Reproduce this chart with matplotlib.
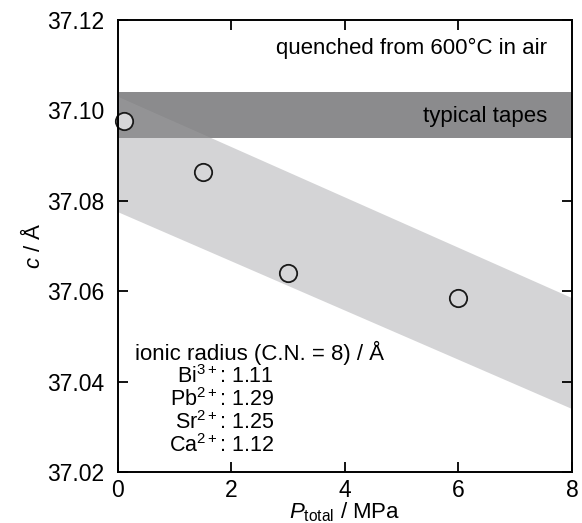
import numpy as np
import matplotlib
matplotlib.use("Agg")
import matplotlib.pyplot as plt

plt.rcParams['font.family'] = ['Liberation Sans', 'DejaVu Sans']
plt.rcParams['mathtext.fontset'] = 'custom'
plt.rcParams['mathtext.it'] = 'Liberation Sans:italic'
plt.rcParams['mathtext.rm'] = 'Liberation Sans'

# measured c-axis lengths vs total pressure
pressure = [0.1, 1.5, 3.0, 6.0]
c_axis = [37.0976, 37.0864, 37.0639, 37.0584]

# shaded trend band (upper / lower edge at P = 0 and P = 8)
band_x = [0, 8]
band_top = [37.1030, 37.0585]
band_bot = [37.0775, 37.0340]

# typical tape range
tape_lo, tape_hi = 37.0939, 37.1040

ion_lines = [r"Bi$^{3+}$: 1.11", r"Pb$^{2+}$: 1.29", r"Sr$^{2+}$: 1.25", r"Ca$^{2+}$: 1.12"]

fig = plt.figure(figsize=(5.82, 5.23), dpi=100)
ax = fig.add_axes([0.2027, 0.0975, 0.7801, 0.8652])

ax.fill_between(band_x, band_bot, band_top, color='#d4d4d6', lw=0, zorder=1)
ax.axhspan(tape_lo, tape_hi, color='#8b8b8d', lw=0, zorder=2)
# overlap of both bands looks a bit lighter
xs = np.linspace(band_x[0], band_x[1], 400)
top = np.interp(xs, band_x, band_top)
bot = np.interp(xs, band_x, band_bot)
lo = np.maximum(bot, tape_lo)
hi = np.minimum(top, tape_hi)
ax.fill_between(xs, lo, hi, where=hi > lo, color='#d4d4d6', alpha=0.12, lw=0, zorder=3)

ax.plot(pressure, c_axis, 'o', ms=12.5, mfc='#d6d6d8', mec='#1a1a1a', mew=1.3,
        clip_on=False, zorder=5)

ax.set_xlim(0, 8)
ax.set_ylim(37.02, 37.12)
ax.set_xticks([0, 2, 4, 6, 8])
ax.set_yticks([37.02, 37.04, 37.06, 37.08, 37.10, 37.12])
ax.set_yticklabels(['%.2f' % v for v in ax.get_yticks()])
ax.tick_params(direction='in', length=7, width=1.3, top=True, right=True,
               labelsize=16.5)
ax.tick_params(axis='y', pad=10)
ax.tick_params(axis='x', pad=5)
for s in ax.spines.values():
    s.set_linewidth(1.4)
    s.set_zorder(6)

ax.set_xlabel(r"$P_{\mathrm{total}}$ / MPa", fontsize=16, labelpad=-1)
ax.set_ylabel(r"$c$ / Å", fontsize=16, labelpad=1)

ax.text(7.56, 37.1136, "quenched from 600°C in air", ha='right', va='center', fontsize=16)
ax.text(7.56, 37.0985, "typical tapes", ha='right', va='center', fontsize=16)
ax.text(0.30, 37.0463, "ionic radius (C.N. = 8) / Å", ha='left', va='center', fontsize=16)
for i, t in enumerate(ion_lines):
    ax.text(2.75, 37.0410 - i * 0.00508, t, ha='right', va='center', fontsize=15.5)

fig.savefig("out.png", dpi=100)
